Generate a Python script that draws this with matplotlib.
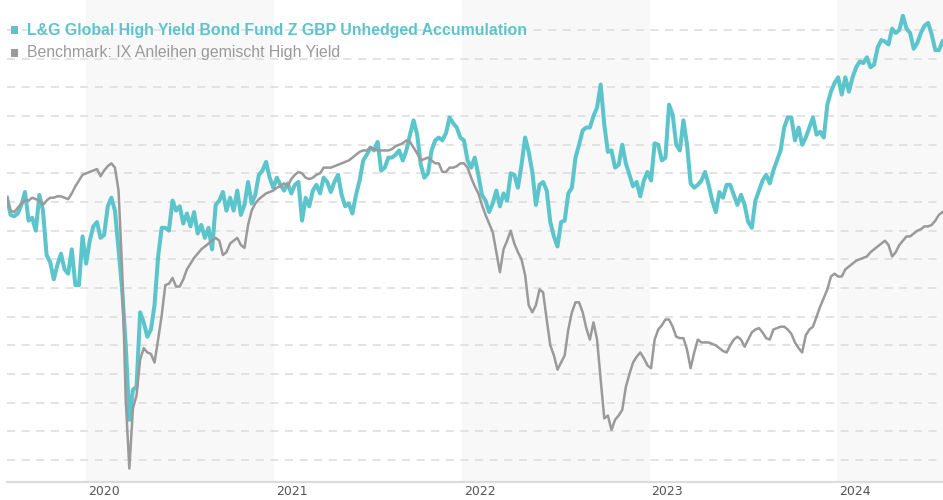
import numpy as np
import pandas as pd
import matplotlib
matplotlib.use("Agg")
import matplotlib.pyplot as plt
import matplotlib.patches as mpatches
import matplotlib.transforms as mtransforms

# ------------------------------------------------------------------ #
#  Daten (Wertentwicklung in %, wöchentlich)               #
# ------------------------------------------------------------------ #

start_date = "2019-07-31"
n_weeks = 261

fund_label = "L&G Global High Yield Bond Fund Z GBP Unhedged Accumulation"
bench_label = "Benchmark: IX Anleihen gemischt High Yield"

fund = [
    0.3, -0.9, -1.0, -0.8, -0.2, 0.7, -1.3, -1.1, -2.0, 0.5,
    -0.6, -3.7, -4.2, -5.4, -4.4, -3.6, -4.7, -5.0, -3.3, -5.8,
    -5.8, -2.4, -4.3, -2.7, -1.7, -1.4, -2.5, -2.3, -0.3, 0.3,
    -0.6, -3.3, -6.1, -10.0, -15.2, -13.1, -12.9, -7.7, -8.4, -9.4,
    -8.9, -7.2, -3.8, -1.8, -1.8, -2.0, 0.1, -0.6, -0.3, -1.5,
    -0.8, -1.7, -0.7, -2.2, -1.6, -2.5, -1.8, -3.3, -0.2, 0.1,
    0.7, -0.6, 0.3, -0.6, 0.8, -0.9, -0.2, 1.4, -0.1, 0.5,
    1.9, 2.2, 2.8, 1.7, 1.0, 1.7, 1.2, 0.8, 1.3, 0.6,
    1.2, 1.4, -1.3, 0.3, -0.3, 0.8, 1.2, 0.6, 1.7, 1.4,
    0.7, 1.4, 1.9, 0.5, -0.3, -0.1, -0.8, 0.5, 1.5, 2.9,
    3.3, 3.8, 3.6, 4.2, 2.2, 2.4, 3.1, 3.1, 3.3, 3.6,
    2.9, 3.6, 4.7, 5.7, 4.7, 2.6, 1.7, 2.0, 3.6, 4.3,
    4.5, 4.3, 4.8, 5.9, 5.5, 5.2, 4.5, 4.3, 2.9, 2.4,
    3.1, 1.9, 0.5, 0.1, -0.7, -0.1, 0.8, -0.3, 0.6, 0.1,
    2.0, 1.9, 1.0, 2.6, 4.5, 3.5, 2.1, -0.2, 1.2, 1.4,
    0.8, -1.4, -2.4, -3.1, -1.4, -1.3, 0.6, 1.0, 3.1, 4.0,
    5.0, 5.2, 5.2, 6.0, 6.6, 8.2, 5.4, 3.5, 3.6, 2.4,
    2.6, 4.0, 2.7, 1.9, 1.1, 1.4, 0.4, 1.5, 2.1, 1.5,
    4.1, 4.0, 2.9, 3.1, 6.8, 6.1, 4.0, 3.6, 5.7, 4.0,
    1.3, 1.0, 1.2, 1.5, 2.1, 1.2, 0.1, -0.7, 0.7, 0.3,
    1.2, 1.2, 0.5, -0.2, 0.5, -0.2, -1.4, -1.8, 0.1, 0.8,
    1.5, 1.9, 1.3, 2.2, 2.9, 3.6, 5.2, 5.9, 5.9, 4.3,
    5.2, 4.0, 4.5, 5.2, 5.9, 4.7, 4.9, 4.5, 6.8, 7.7,
    8.3, 8.7, 7.5, 8.7, 7.7, 8.7, 9.4, 9.8, 9.7, 10.1,
    9.4, 9.6, 10.8, 11.3, 11.2, 11.0, 12.1, 11.8, 12.0, 13.0,
    12.1, 11.8, 10.7, 11.1, 11.8, 12.3, 12.5, 11.7, 10.6, 10.6,
    11.2,
]

benchmark = [
    0.3, -0.6, -0.7, -0.4, -0.1, 0.1, 0.1, 0.3, 0.2, 0.1,
    -0.2, 0.1, 0.3, 0.3, 0.4, 0.4, 0.3, 0.2, 0.6, 1.1,
    1.5, 1.9, 2.0, 2.1, 2.2, 2.3, 1.8, 2.2, 2.5, 2.7,
    2.4, 0.8, -4.7, -13.8, -18.6, -14.4, -13.5, -11.0, -10.2, -10.5,
    -10.6, -11.2, -9.6, -7.9, -5.8, -5.7, -5.3, -5.9, -5.9, -5.4,
    -4.7, -4.3, -3.9, -3.6, -3.3, -3.1, -2.9, -2.7, -2.5, -2.7,
    -3.7, -3.5, -2.9, -2.7, -2.5, -3.0, -3.2, -1.6, -0.6, -0.1,
    0.2, 0.4, 0.6, 0.7, 0.8, 1.0, 1.1, 1.3, 1.1, 1.6,
    1.9, 2.1, 2.0, 1.7, 1.6, 1.7, 1.9, 2.0, 2.4, 2.4,
    2.4, 2.5, 2.6, 2.7, 2.8, 2.9, 3.1, 3.3, 3.5, 3.6,
    3.6, 3.8, 3.7, 3.6, 3.6, 3.6, 3.6, 3.7, 3.9, 4.0,
    4.1, 4.3, 4.2, 3.8, 3.4, 2.9, 3.0, 3.1, 2.9, 2.7,
    2.7, 2.1, 2.1, 2.4, 2.4, 2.5, 2.7, 2.7, 2.4, 1.7,
    1.1, 0.6, -0.2, -0.9, -1.5, -2.1, -3.5, -4.9, -3.3, -2.7,
    -2.0, -2.9, -3.5, -4.0, -5.1, -7.2, -7.7, -7.2, -6.1, -6.3,
    -8.2, -10.0, -10.7, -11.7, -11.2, -10.7, -8.9, -7.7, -7.0, -7.0,
    -7.7, -8.8, -9.6, -8.4, -9.6, -12.4, -15.1, -14.9, -15.9, -15.2,
    -14.9, -14.5, -12.9, -12.0, -11.2, -10.8, -10.5, -10.9, -11.4, -11.6,
    -9.6, -8.9, -8.6, -8.2, -8.2, -8.7, -9.4, -9.5, -9.5, -10.3,
    -11.6, -10.5, -9.6, -9.8, -9.8, -9.8, -9.9, -10.0, -10.2, -10.4,
    -10.5, -10.0, -9.6, -9.4, -9.6, -10.1, -9.6, -9.1, -8.9, -8.8,
    -9.1, -9.5, -9.6, -8.9, -8.8, -8.7, -8.7, -8.9, -9.2, -9.8,
    -10.2, -10.5, -9.3, -8.9, -8.7, -8.0, -7.3, -6.7, -6.1, -5.2,
    -5.0, -5.2, -5.2, -4.7, -4.5, -4.3, -4.1, -4.0, -3.9, -3.8,
    -3.5, -3.3, -3.1, -2.9, -2.7, -3.0, -3.8, -3.5, -3.0, -2.7,
    -2.4, -2.4, -2.2, -2.0, -1.9, -1.7, -1.7, -1.6, -1.3, -0.9,
    -0.7,
]

years = [2020, 2021, 2022, 2023, 2024]
shaded_years = [2020, 2022, 2024]

# ------------------------------------------------------------------ #
#  Stil                                                               #
# ------------------------------------------------------------------ #

TEAL = "#5cc4cb"
GREY = "#9a9a9a"
W, H = 943, 500

dates = pd.date_range(start_date, periods=n_weeks, freq="7D")

fig = plt.figure(figsize=(W / 100, H / 100), dpi=100)
ax = fig.add_axes([7 / W, 18 / H, 1 - 7 / W, 1 - 18 / H])

x_end = dates[-1] + pd.Timedelta(days=1)
ax.set_xlim(dates[0], x_end)
ax.set_ylim(-19.54, 14.1)

# Jahresbänder
for yr in shaded_years:
    ax.axvspan(pd.Timestamp(f"{yr}-01-01"), pd.Timestamp(f"{yr + 1}-01-01"),
               color="#f8f8f8", zorder=0, lw=0)

# gestrichelte Hilfslinien
for gv in np.arange(-18, 13, 2):
    ax.axhline(gv, color="#e0e0e0", lw=1.3, dashes=(4.5, 3.6), zorder=1)

ax.plot(dates, fund, color=TEAL, lw=2.9, zorder=3, solid_joinstyle="round")
ax.plot(dates, benchmark, color=GREY, lw=1.8, zorder=4, solid_joinstyle="round")

# Achsen
for side in ["top", "left", "right"]:
    ax.spines[side].set_visible(False)
ax.spines["bottom"].set_color("#dcdcdc")
ax.spines["bottom"].set_linewidth(1.6)
ax.set_yticks([])
ax.set_xticks([pd.Timestamp(f"{y}-01-01") for y in years])
ax.set_xticklabels([str(y) for y in years], fontsize=9, color="#555555",
                   family="DejaVu Sans", ha="left")
ax.tick_params(axis="x", length=0, pad=2)
offset = mtransforms.ScaledTranslation(2 / 100, 0, fig.dpi_scale_trans)
for lbl in ax.get_xticklabels():
    lbl.set_transform(lbl.get_transform() + offset)

# Legende oben links
entries = [
    (fund_label, TEAL, "bold", 30),
    (bench_label, GREY, "normal", 53),
]
for text, col, weight, ypx in entries:
    fig.add_artist(mpatches.Rectangle((11 / W, 1 - (ypx + 3.5) / H),
                                      7 / W, 7 / H, color=col,
                                      transform=fig.transFigure, lw=0))
    fig.text(27 / W, 1 - ypx / H, text, color=col, fontweight=weight,
             fontsize=11.4, family="Liberation Sans", va="center", ha="left")

fig.savefig("out.png", dpi=100)
